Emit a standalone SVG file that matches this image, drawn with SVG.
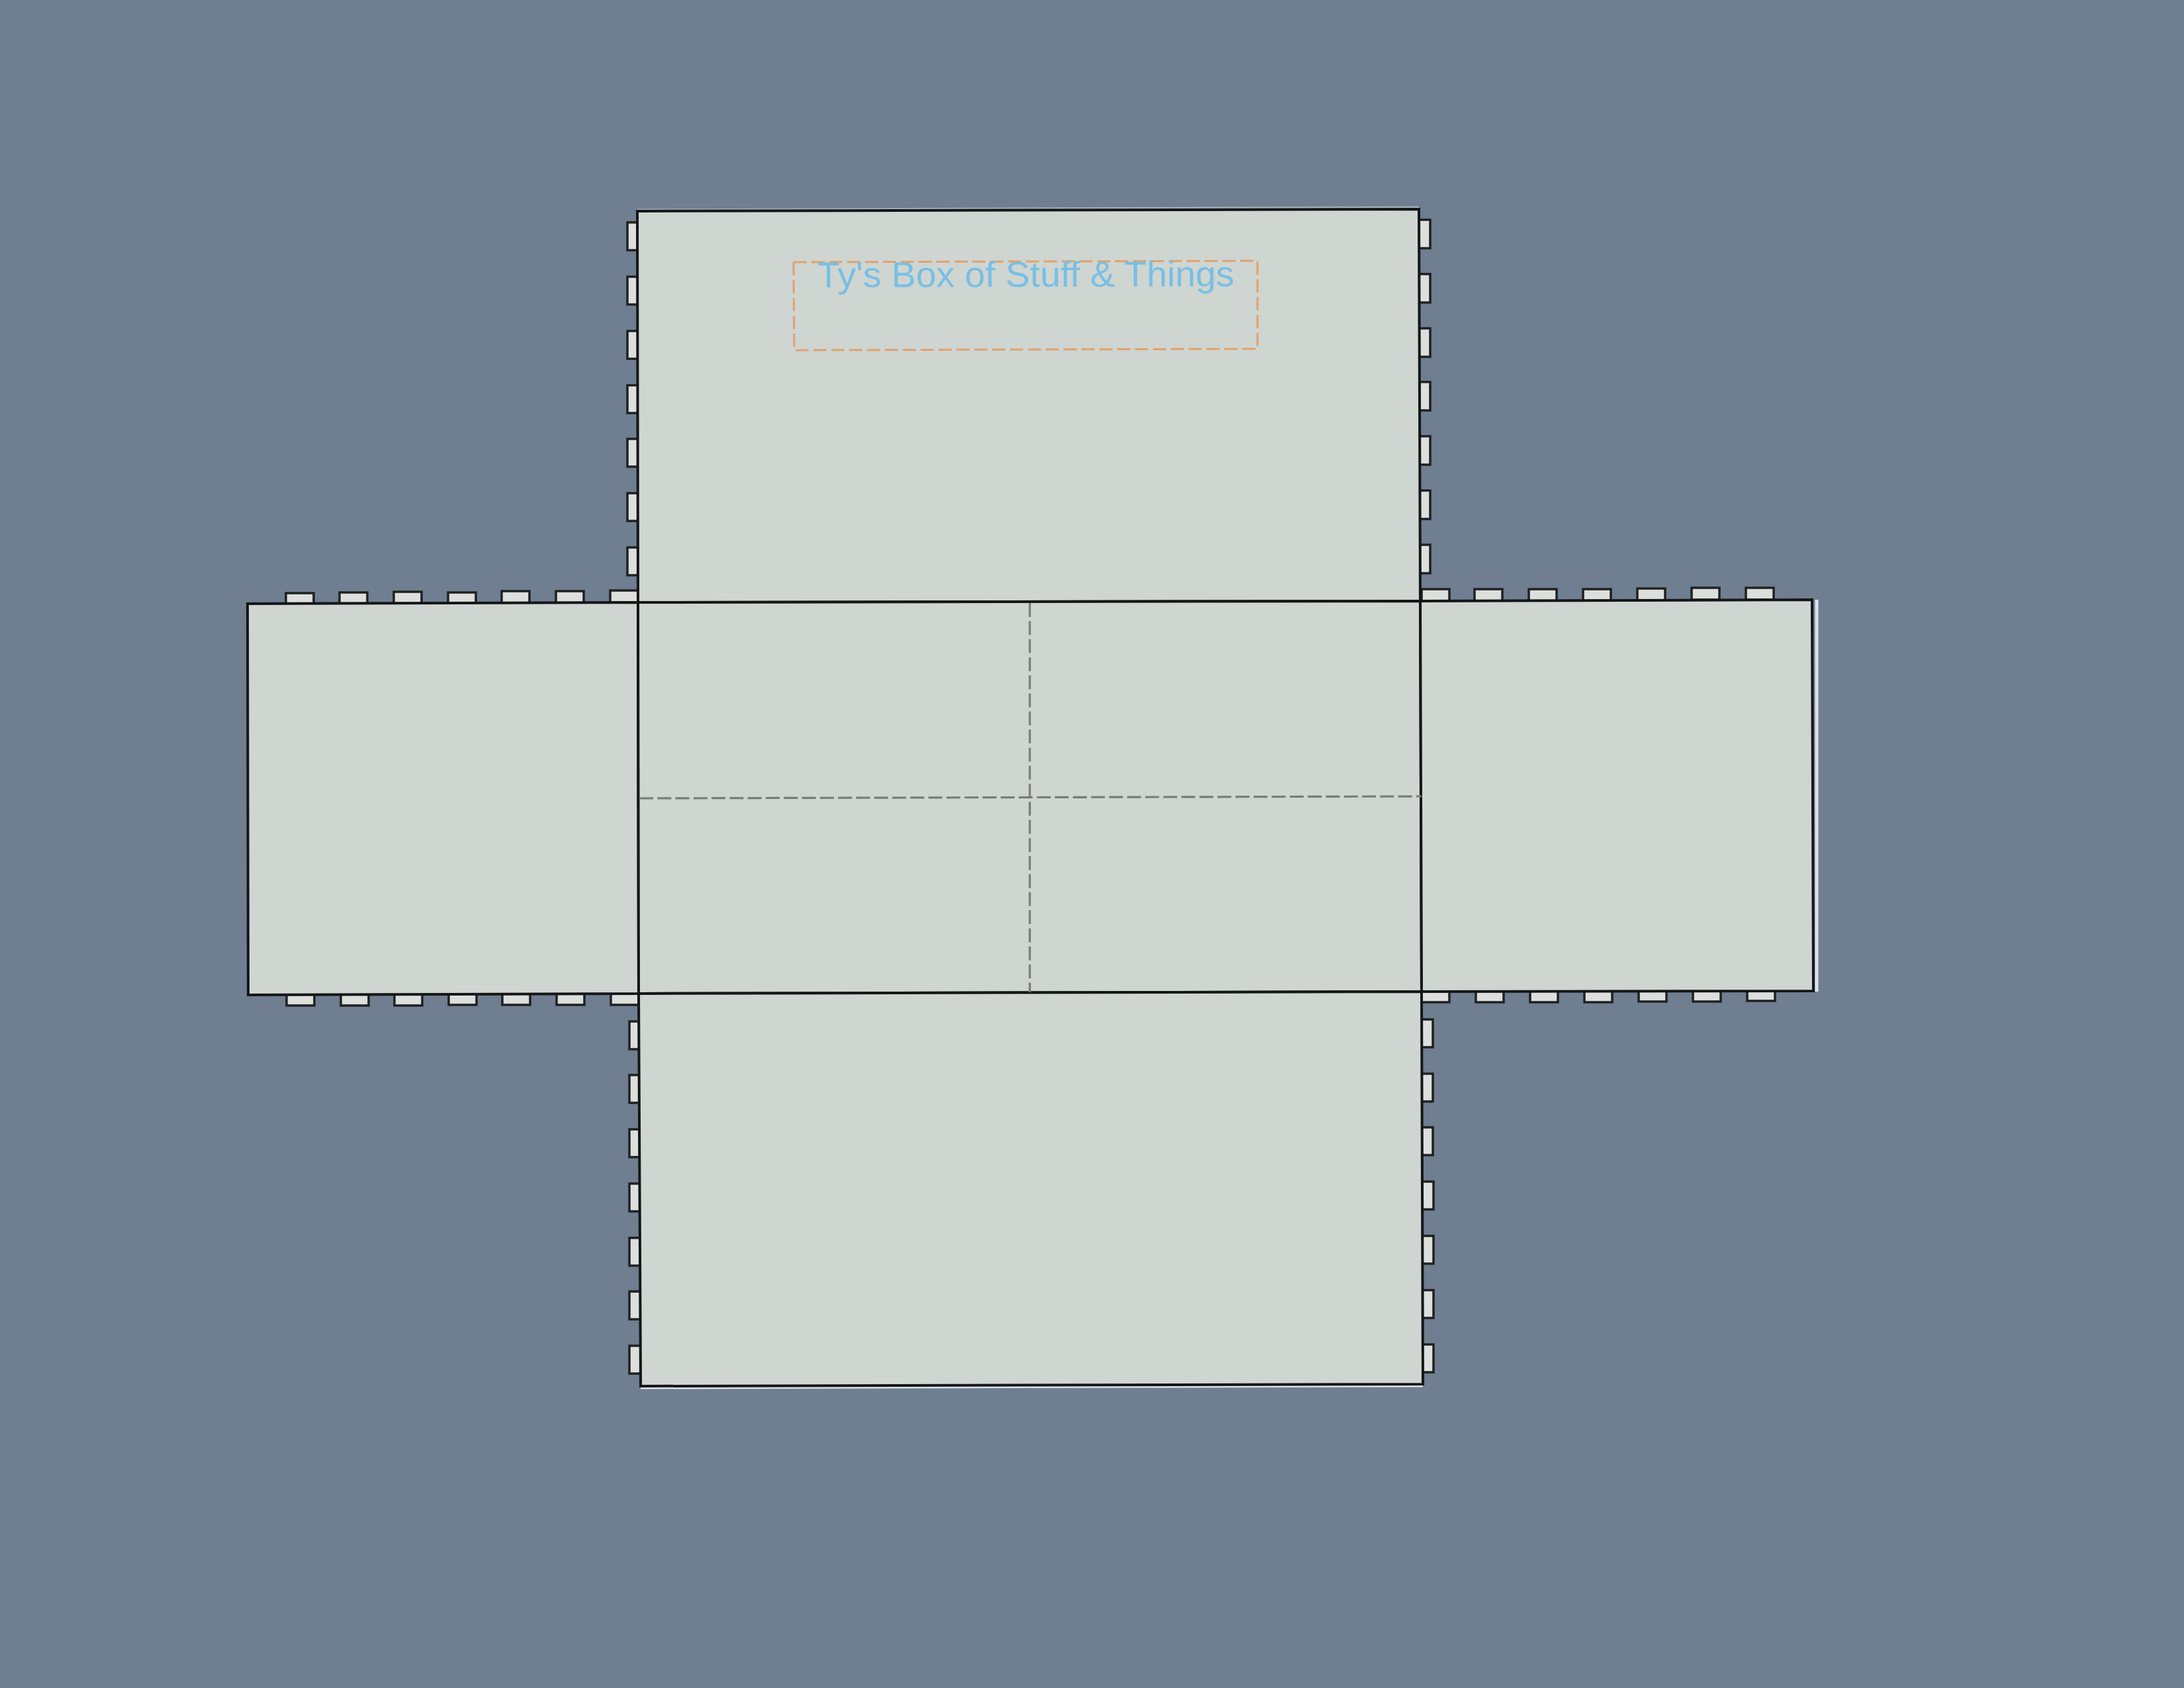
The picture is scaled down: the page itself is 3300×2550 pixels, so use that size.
<svg xmlns="http://www.w3.org/2000/svg" width="3300" height="2550" viewBox="0 0 3300 2550">
<style>
.panel{fill:#cfd5d1;stroke:#141617;stroke-width:4;stroke-linejoin:miter}
.tab{fill:#dcdfdc;stroke:#1f2122;stroke-width:3.5}
.fold{fill:none;stroke:#777c7a;stroke-width:3.2;stroke-dasharray:21 6.3}
.edge{fill:none;stroke:#dce1e8;stroke-width:5}
.label{font-family:"Liberation Sans",Arial,sans-serif;font-size:54px;fill:#78bfe4}
</style>
<rect id="background" width="3300" height="2550" fill="#6f7e90"/>
<g id="tabs-top-left">
<rect class="tab" x="948" y="336" width="17" height="42"/><rect class="tab" x="948" y="418" width="17" height="42"/><rect class="tab" x="948" y="500" width="17" height="42"/><rect class="tab" x="948" y="582" width="17" height="42"/><rect class="tab" x="948" y="663" width="17" height="42"/><rect class="tab" x="948" y="745" width="17" height="42"/><rect class="tab" x="948" y="827" width="17" height="42"/>
</g>
<g id="tabs-top-right">
<rect class="tab" x="2144" y="332" width="17" height="43"/><rect class="tab" x="2144" y="414" width="17" height="43"/><rect class="tab" x="2144" y="496" width="17" height="43"/><rect class="tab" x="2144" y="577" width="17" height="43"/><rect class="tab" x="2144" y="659" width="17" height="43"/><rect class="tab" x="2144" y="741" width="17" height="43"/><rect class="tab" x="2144" y="823" width="17" height="43"/>
</g>
<g id="tabs-left-top">
<rect class="tab" x="432" y="896" width="42" height="18"/><rect class="tab" x="513" y="895" width="42" height="18"/><rect class="tab" x="595" y="894" width="42" height="18"/><rect class="tab" x="677" y="895" width="42" height="18"/><rect class="tab" x="758" y="893" width="42" height="18"/><rect class="tab" x="840" y="893" width="42" height="18"/><rect class="tab" x="922" y="892" width="42" height="18"/>
</g>
<g id="tabs-right-top">
<rect class="tab" x="2148" y="890" width="42" height="18"/><rect class="tab" x="2228" y="890" width="42" height="18"/><rect class="tab" x="2310" y="890" width="42" height="18"/><rect class="tab" x="2392" y="890" width="42" height="18"/><rect class="tab" x="2474" y="889" width="42" height="18"/><rect class="tab" x="2556" y="888" width="42" height="18"/><rect class="tab" x="2638" y="888" width="42" height="18"/>
</g>
<g id="tabs-left-bottom">
<rect class="tab" x="433" y="1501" width="42" height="18"/><rect class="tab" x="515" y="1501" width="42" height="18"/><rect class="tab" x="596" y="1501" width="42" height="18"/><rect class="tab" x="678" y="1500" width="42" height="18"/><rect class="tab" x="759" y="1500" width="42" height="18"/><rect class="tab" x="841" y="1500" width="42" height="18"/><rect class="tab" x="923" y="1500" width="42" height="18"/>
</g>
<g id="tabs-right-bottom">
<rect class="tab" x="2148" y="1496" width="42" height="18"/><rect class="tab" x="2230" y="1496" width="42" height="18"/><rect class="tab" x="2312" y="1496" width="42" height="18"/><rect class="tab" x="2394" y="1496" width="42" height="18"/><rect class="tab" x="2476" y="1495" width="42" height="18"/><rect class="tab" x="2558" y="1495" width="42" height="18"/><rect class="tab" x="2640" y="1494" width="42" height="18"/>
</g>
<g id="tabs-bottom-left">
<rect class="tab" x="951" y="1543" width="17" height="42"/><rect class="tab" x="951" y="1624" width="17" height="42"/><rect class="tab" x="951" y="1706" width="17" height="42"/><rect class="tab" x="951" y="1788" width="17" height="42"/><rect class="tab" x="951" y="1870" width="17" height="42"/><rect class="tab" x="951" y="1951" width="17" height="42"/><rect class="tab" x="951" y="2033" width="17" height="42"/>
</g>
<g id="tabs-bottom-right">
<rect class="tab" x="2148" y="1540" width="17" height="42"/><rect class="tab" x="2148" y="1622" width="17" height="42"/><rect class="tab" x="2148" y="1703" width="17" height="42"/><rect class="tab" x="2149" y="1785" width="17" height="42"/><rect class="tab" x="2149" y="1867" width="17" height="42"/><rect class="tab" x="2149" y="1949" width="17" height="42"/><rect class="tab" x="2149" y="2031" width="17" height="42"/>
</g>
<path class="edge" d="M2745 906V1498"/>
<path class="edge" d="M968 2096L2150 2093"/>
<path d="M963 317L2144 313" fill="none" stroke="#a4aeb8" stroke-width="3"/>
<g id="panel-top"><polygon class="panel" points="963,319 2144,316 2146,908 964,910"/></g>
<g id="panel-left"><polygon class="panel" points="374,912 964,910 965,1501 375,1503"/></g>
<g id="panel-center"><polygon class="panel" points="964,910 2146,908 2148,1498 965,1501"/></g>
<g id="panel-right"><polygon class="panel" points="2146,908 2738,906 2740,1497 2148,1498"/></g>
<g id="panel-bottom"><polygon class="panel" points="965,1501 2148,1498 2150,2091 968,2094"/></g>
<g id="title">
<polygon points="1199,396 1900,394 1900,527 1200,529" fill="none" stroke="#dfa36f" stroke-width="3" stroke-dasharray="20 7"/>
<text class="label" x="1235" y="434" textLength="630" lengthAdjust="spacingAndGlyphs" transform="rotate(-0.15 1235 434)">Ty's Box of Stuff &amp; Things</text>
</g>
<g id="connectors">
<path class="fold" d="M966 1206L2148 1203"/>
<path class="fold" d="M1556 911V1499"/>
</g>
</svg>
